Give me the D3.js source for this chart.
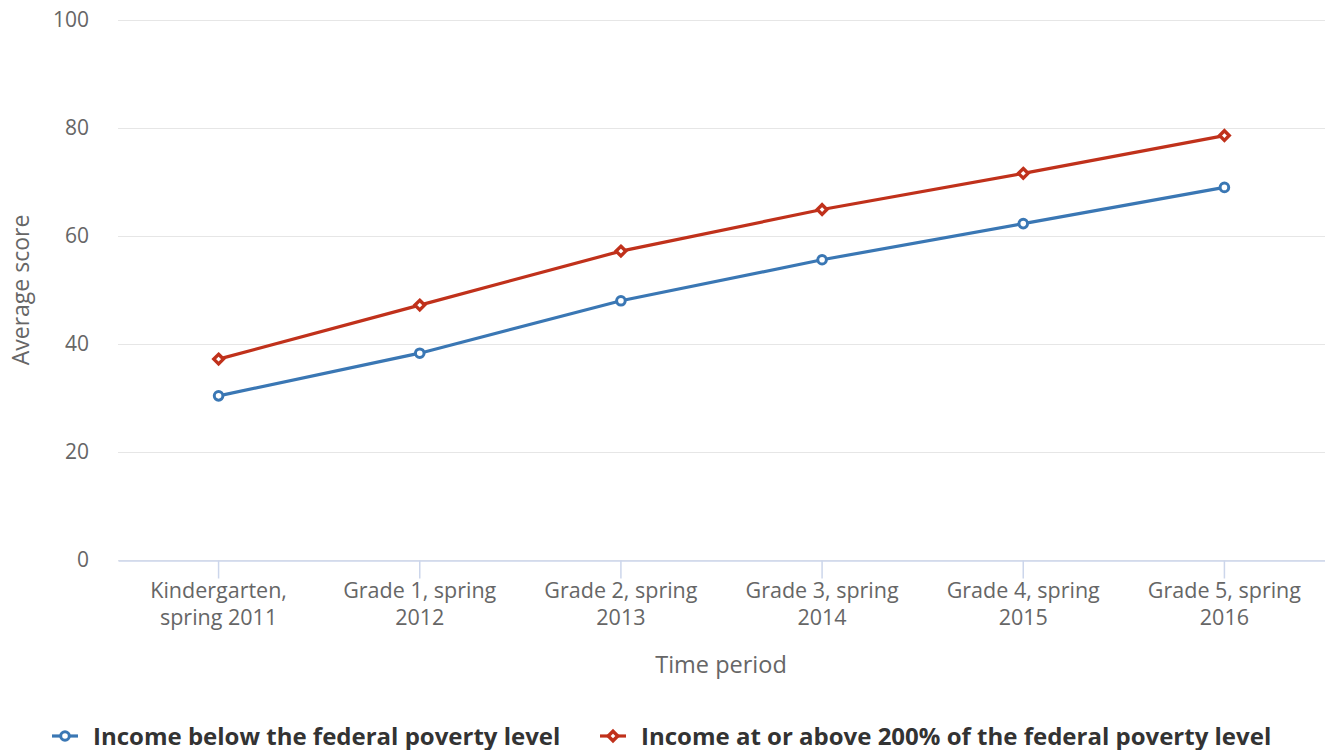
<!DOCTYPE html>
<html><head><meta charset="utf-8">
<script src="https://cdn.jsdelivr.net/npm/d3@7"></script>
<style>body{margin:0;background:#fff;font-family:"Open Sans",sans-serif;}</style>
</head><body>
<svg id="c" width="1325" height="750"></svg>
<script>
const categories = [["Kindergarten,","spring 2011"],["Grade 1, spring","2012"],["Grade 2, spring","2013"],["Grade 3, spring","2014"],["Grade 4, spring","2015"],["Grade 5, spring","2016"]];
const belowPoverty = [30.4, 38.3, 48.0, 55.6, 62.3, 69.0];
const above200 = [37.2, 47.2, 57.2, 64.9, 71.6, 78.6];
const yTicks = [0, 20, 40, 60, 80, 100];
const seriesNames = ["Income below the federal poverty level", "Income at or above 200% of the federal poverty level"];

const svg = d3.select("#c");
const L = 118, R = 1325, T = 20, B = 560;
const x = d3.scaleBand().domain(d3.range(categories.length)).range([L, R]);
const y = d3.scaleLinear().domain([0, 100]).range([B, T]);
const cx = i => x(i) + x.bandwidth() / 2;

// grid
const yAxis = d3.axisLeft(y).tickValues(yTicks).tickSize(-(R - L)).tickPadding(29);
const gy = svg.append("g").attr("transform", `translate(${L},0)`).call(yAxis);
gy.select(".domain").remove();
gy.selectAll(".tick line").attr("stroke", "#e6e6e6").attr("stroke-width", 1);
gy.selectAll(".tick text").attr("fill", "#666").style("font-size", "21px").style("font-family", "Open Sans").attr("dy", "0.3em");

// x axis
const xAxis = d3.axisBottom(x).tickSize(0).tickFormat(() => "");
const gx = svg.append("g").attr("transform", `translate(0,${B + 0.5})`).call(xAxis);
gx.select(".domain").attr("stroke", "#ccd6eb").attr("stroke-width", 1.5);
gx.selectAll(".tick").each(function(d) {
  const g = d3.select(this);
  g.append("line").attr("y1", 0).attr("y2", 18).attr("stroke", "#ccd6eb").attr("stroke-width", 1.5);
  const t = g.append("text").attr("fill", "#666").style("font-size", "21.5px").style("font-family", "Open Sans").attr("text-anchor", "middle");
  categories[d].forEach((s, k) => t.append("tspan").attr("x", 0).attr("y", 37 + k * 27).text(s));
});

// axis titles
svg.append("text").attr("x", 721).attr("y", 673).attr("text-anchor", "middle").attr("fill", "#666").style("font-size", "23.5px").text("Time period");
svg.append("text").attr("transform", `translate(29,${(T + B) / 2}) rotate(-90)`).attr("text-anchor", "middle").attr("fill", "#666").style("font-size", "23px").text("Average score");

const line = d3.line().x((d, i) => cx(i)).y(d => y(d));
const blue = "#3a77b4", red = "#c0311b";

svg.append("path").datum(belowPoverty).attr("d", line).attr("fill", "none").attr("stroke", blue).attr("stroke-width", 3.2);
svg.append("path").datum(above200).attr("d", line).attr("fill", "none").attr("stroke", red).attr("stroke-width", 3.2);

const diamond = (px, py, s) => `M${px},${py - s}L${px + s},${py}L${px},${py + s}L${px - s},${py}Z`;

svg.selectAll(".pb").data(belowPoverty).enter().append("circle")
  .attr("cx", (d, i) => cx(i)).attr("cy", d => y(d)).attr("r", 4.3)
  .attr("fill", "#fff").attr("stroke", blue).attr("stroke-width", 3);
svg.selectAll(".pr").data(above200).enter().append("path")
  .attr("d", (d, i) => diamond(cx(i), y(d), 4.8))
  .attr("fill", "#fff").attr("stroke", red).attr("stroke-width", 3.4);

// legend
const lg = [{x: 52, c: blue, t: seriesNames[0], sym: "c"}, {x: 600, c: red, t: seriesNames[1], sym: "d"}];
lg.forEach(o => {
  const ly = 736;
  svg.append("line").attr("x1", o.x).attr("x2", o.x + 26).attr("y1", ly).attr("y2", ly).attr("stroke", o.c).attr("stroke-width", 3.2);
  if (o.sym === "c") svg.append("circle").attr("cx", o.x + 13).attr("cy", ly).attr("r", 4.3).attr("fill", "#fff").attr("stroke", o.c).attr("stroke-width", 3);
  else svg.append("path").attr("d", diamond(o.x + 13, ly, 4.8)).attr("fill", "#fff").attr("stroke", o.c).attr("stroke-width", 3.4);
  svg.append("text").attr("x", o.x + 41).attr("y", ly + 8.5).attr("fill", "#333").style("font-size", "24px").style("font-weight", "bold").text(o.t);
});
</script>
</body></html>
